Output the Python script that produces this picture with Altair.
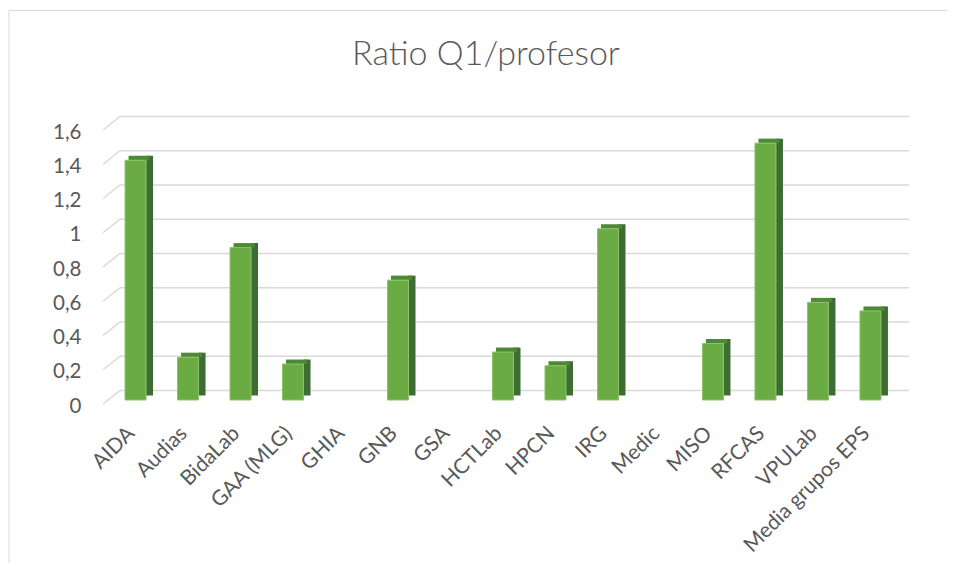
import altair as alt
import pandas as pd

CATEGORIES = ["AIDA", "Audias", "BidaLab", "GAA (MLG)", "GHIA", "GNB", "GSA", "HCTLab",
              "HPCN", "IRG", "Medic", "MISO", "RFCAS", "VPULab", "Media grupos EPS"]
VALUES = [1.4, 0.25, 0.89, 0.21, None, 0.7, None, 0.28, 0.2, 1.0, None, 0.33, 1.5, 0.57, 0.52]
GRID_TICKS = [0, 0.2, 0.4, 0.6, 0.8, 1.0, 1.2, 1.4, 1.6]
TITLE = "Ratio Q1/profesor"

df = pd.DataFrame({"cat": CATEGORIES, "val": VALUES})
grid_df = pd.DataFrame({"tick": GRID_TICKS})
title_df = pd.DataFrame({"t": [TITLE]})

FONT = "Lato"
GRAY = "#595959"
W, H = 800, 274
PAD_R, PAD_B = 44, 163

xscale = alt.Scale(domain=CATEGORIES, paddingInner=0.6, paddingOuter=0.42)
yscale = alt.Scale(domain=[0, 1.6], nice=False, zero=True)

xaxis = alt.Axis(title=None, domain=False, ticks=False, grid=False, labelAngle=315,
                 labelAlign="right", labelBaseline="middle", labelPadding=30, labelOffset=-4,
                 labelFont=FONT, labelFontSize=21, labelColor=GRAY)
yaxis = alt.Axis(title=None, domain=False, ticks=False, grid=False, values=GRID_TICKS,
                 labelExpr="replace(format(datum.value, '.1~f'), '.', ',')",
                 labelPadding=22, labelOffset=6, labelFont=FONT, labelFontSize=20.5,
                 labelColor=GRAY)

X = alt.X("cat:N", scale=xscale, sort=CATEGORIES, axis=xaxis)
Y = alt.Y("val:Q", scale=yscale, axis=yaxis)
YT = alt.Y("tick:Q", scale=yscale, axis=yaxis)

border_top = alt.Chart(title_df).mark_rule(stroke="#d9d9d9", strokeWidth=1).encode(
    x=alt.value(-94), x2=alt.value(W + PAD_R), y=alt.value(-115.5)
)
border_left = alt.Chart(title_df).mark_rule(stroke="#d9d9d9", strokeWidth=1).encode(
    x=alt.value(-94), y=alt.value(-115.5), y2=alt.value(H + PAD_B)
)

title = alt.Chart(title_df).mark_text(font=FONT, fontSize=34, fontWeight=300, color=GRAY,
                                      align="center", baseline="alphabetic").encode(
    text="t:N", x=alt.value(383), y=alt.value(-61)
)

grid = alt.Chart(grid_df).mark_rule(color="#d9d9d9", strokeWidth=1.5, yOffset=-9.5).encode(
    y=YT, x=alt.value(17), x2=alt.value(W + 6)
)
diag = alt.Chart(grid_df).mark_rule(color="#d9d9d9", strokeWidth=1.5, yOffset=4, y2Offset=-9.5).encode(
    y=YT, y2="tick:Q", x=alt.value(0), x2=alt.value(17)
)

side = alt.Chart(df).mark_bar(width=7, xOffset=14, yOffset=-4.5, y2Offset=-2, color="#3d6d32").encode(
    x=X, y=Y
)
top = alt.Chart(df).mark_bar(width=21, xOffset=3.5, yOffset=-4.5, color="#4e8a35").encode(
    x=X, y=Y, y2="val:Q"
)
front = alt.Chart(df).mark_bar(width=21, color="#6aab44", stroke="#8dc26b", strokeWidth=1).encode(
    x=X, y=Y
)

chart = alt.layer(border_top, border_left, title, grid, diag, side, top, front).properties(
    width=W, height=H,
    autosize=alt.AutoSizeParams(type="none"),
    padding={"left": 95, "top": 118, "right": PAD_R, "bottom": PAD_B},
    background="white"
).configure_view(stroke=None)

chart.save("out.html", embed_options={"renderer": "svg", "actions": False})
